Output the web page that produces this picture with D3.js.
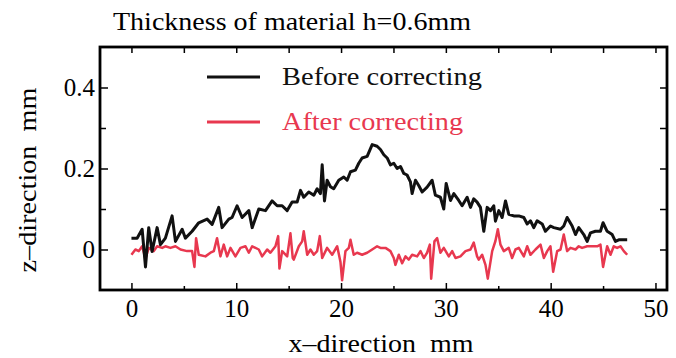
<!DOCTYPE html>
<html><head><meta charset="utf-8">
<script src="https://cdn.jsdelivr.net/npm/d3@7"></script>
<style>
html,body{margin:0;padding:0;background:#fff;}
svg text{font-family:"Liberation Serif","Times New Roman",serif !important;}
</style></head>
<body>
<svg id="chart" width="676" height="358"></svg>
<script>
const title = "Thickness of material h=0.6mm";
const xLabel = "x\u2013direction  mm";
const yLabel = "z\u2013direction  mm";
const seriesNames = ["Before correcting", "After correcting"];
const seriesColors = ["#111111", "#e8384f"];
const xTicks = [0, 10, 20, 30, 40, 50];
const xMinorTicks = [5, 15, 25, 35, 45];
const yTicks = [0, 0.2, 0.4];
const yMinorTicks = [0.1, 0.3];

const beforeX = [0,0.54,1.02,1.34,1.65,1.97,2.45,2.77,3.24,3.88,4.2,4.84,5.15,5.79,6.42,7.22,7.7,8.33,8.65,9.29,9.6,10.08,10.56,11.2,11.52,12.15,12.79,13.42,13.9,14.38,14.86,15.33,15.81,16.13,16.44,16.92,17.4,17.72,18.03,18.2,18.42,18.67,18.99,19.3,19.78,20.26,20.58,20.9,21.37,21.69,22.01,22.49,22.97,23.44,23.76,24.08,24.4,24.71,25.03,25.35,25.67,25.98,26.3,26.62,26.78,27.1,27.41,27.74,28.21,28.69,29.0,29.48,29.8,30.03,30.44,30.76,31.23,31.55,32.03,32.35,32.66,32.98,33.3,33.62,33.94,34.26,34.57,34.73,35.05,35.37,35.69,36.0,36.48,36.96,37.44,37.76,38.07,38.39,38.71,39.19,39.5,39.98,40.3,40.94,41.25,41.57,42.05,42.37,42.68,43.16,43.48,43.8,44.27,44.75,45.0,45.39,45.87,46.18,46.5,47.3];
const beforeZ = [0.028,0.028,0.05,-0.043,0.054,-0.005,0.054,0.012,0.028,0.083,0.02,0.05,0.028,0.045,0.066,0.075,0.062,0.104,0.054,0.075,0.079,0.108,0.079,0.096,0.054,0.1,0.096,0.12,0.108,0.108,0.096,0.117,0.117,0.146,0.129,0.142,0.134,0.15,0.138,0.209,0.12,0.171,0.155,0.15,0.171,0.179,0.171,0.192,0.196,0.213,0.226,0.23,0.259,0.255,0.247,0.234,0.226,0.209,0.213,0.2,0.205,0.188,0.184,0.167,0.138,0.171,0.158,0.142,0.154,0.171,0.134,0.129,0.1,0.163,0.121,0.138,0.121,0.108,0.129,0.104,0.125,0.117,0.104,0.045,0.104,0.096,0.108,0.07,0.096,0.079,0.12,0.087,0.083,0.083,0.079,0.063,0.071,0.054,0.071,0.063,0.045,0.058,0.054,0.05,0.058,0.079,0.058,0.037,0.054,0.037,0.02,0.041,0.045,0.045,0.066,0.045,0.037,0.02,0.024,0.024];

const afterX = [0,0.38,0.7,1.02,1.34,1.65,2.13,2.45,2.93,3.24,3.72,4.2,4.68,5.31,5.79,6.01,6.17,6.42,7.06,7.54,7.86,8.17,8.49,8.81,9.13,9.45,9.92,10.4,10.88,11.2,11.52,12.15,12.47,12.95,13.26,13.74,14.0,14.12,14.38,14.86,15.17,15.39,15.49,15.97,16.29,16.44,16.77,17.08,17.4,17.72,17.97,18.2,18.67,19.15,19.63,19.94,20.1,20.42,20.74,20.9,21.21,21.53,22.01,22.49,22.97,23.44,23.76,24.24,24.71,25.03,25.19,25.51,25.83,26.15,26.46,26.78,27.26,27.58,27.9,28.21,28.47,28.6,28.91,29.17,29.48,29.8,30.28,30.6,30.92,31.39,31.87,32.35,32.66,32.98,33.14,33.46,33.78,34.0,34.42,34.73,34.96,35.21,35.53,36.0,36.32,36.64,36.96,37.44,37.76,38.07,38.55,39.03,39.35,39.67,39.98,40.24,40.62,40.94,41.25,41.57,41.89,42.37,42.68,43.0,43.48,43.96,44.44,44.75,45.0,45.39,45.71,46.02,46.34,46.66,46.98,47.3];
const afterZ = [-0.013,0.0,-0.004,0.008,-0.022,0.004,-0.004,0.008,0.004,0.008,0.004,0.008,0.0,-0.004,-0.004,-0.043,0.028,-0.013,-0.017,-0.008,-0.004,0.028,-0.017,0.012,-0.017,0.004,-0.017,0.004,0.008,-0.008,0.008,0.0,-0.017,0.0,-0.008,0.008,0.033,-0.047,-0.004,-0.017,0.04,-0.021,-0.025,0.008,0.02,0.045,-0.013,0.0,-0.013,-0.004,0.033,-0.021,0.004,-0.013,0.008,-0.03,-0.076,-0.004,0.004,0.024,-0.013,-0.008,-0.013,-0.008,0.0,0.008,0.004,0.004,-0.004,-0.021,-0.038,-0.013,-0.034,-0.017,-0.025,-0.013,-0.017,-0.004,-0.021,-0.008,0.012,-0.072,0.02,0.028,-0.008,0.004,-0.017,-0.004,-0.021,-0.017,-0.004,0.0,0.017,-0.017,-0.025,-0.013,-0.038,-0.072,-0.004,0.021,0.05,0.012,-0.004,0.004,-0.021,0.0,0.004,-0.017,0.008,-0.013,0.0,0.012,-0.021,-0.004,0.008,-0.055,-0.004,0.0,0.037,-0.004,0.004,0.0,0.008,0.004,0.008,0.008,0.008,0.012,-0.043,0.008,-0.013,0.008,0.004,0.008,-0.004,-0.013];

const FONT = "'Liberation Serif','Times New Roman',serif";
const svg = d3.select("#chart");
const L = 100, R = 667, T = 47, B = 290;
const x = d3.scaleLinear().domain([-3, 51.1]).range([L, R]);
const y = d3.scaleLinear().domain([-0.1, 0.5]).range([B, T]);

// title
svg.append("text").attr("x", 113).attr("y", 30).style("font-family", FONT).style("font-size", "26px")
  .attr("textLength", 358).attr("lengthAdjust", "spacingAndGlyphs").text(title);

// axes
function styleAxis(g){
  g.attr("font-family", null);
  g.select(".domain").remove();
  g.selectAll("line").attr("stroke","#000").attr("stroke-width",1.5);
  g.selectAll("text").style("font-family", FONT).style("font-size","25px").attr("fill","#000");
}

svg.append("g").attr("transform",`translate(0,${B})`)
  .call(d3.axisBottom(x).tickValues(xTicks).tickSize(-7).tickPadding(9).tickFormat(d3.format("d")))
  .call(styleAxis);
svg.append("g").attr("transform",`translate(0,${B})`)
  .call(d3.axisBottom(x).tickValues(xMinorTicks).tickSize(-4).tickFormat(""))
  .call(styleAxis);
svg.append("g").attr("transform",`translate(0,${T})`)
  .call(d3.axisTop(x).tickValues(xTicks.concat(xMinorTicks)).tickSize(-6).tickFormat(""))
  .call(styleAxis);
svg.append("g").attr("transform",`translate(${L},0)`)
  .call(d3.axisLeft(y).tickValues(yTicks).tickSize(-8).tickPadding(5).tickFormat(d => d === 0 ? "0" : d3.format(".1f")(d)))
  .call(styleAxis);
svg.append("g").attr("transform",`translate(${L},0)`)
  .call(d3.axisLeft(y).tickValues(yMinorTicks).tickSize(-6).tickFormat(""))
  .call(styleAxis);
svg.append("g").attr("transform",`translate(${R},0)`)
  .call(d3.axisRight(y).tickValues(yTicks.concat(yMinorTicks)).tickSize(-7).tickFormat(""))
  .call(styleAxis);

// frame
svg.append("rect").attr("x",L).attr("y",T).attr("width",R-L).attr("height",B-T)
  .attr("fill","none").attr("stroke","#000").attr("stroke-width",2.8);

// axis titles
svg.append("text").attr("x", 381).attr("y", 352).attr("text-anchor","middle")
  .style("font-family", FONT).style("font-size", "25px").style("white-space","pre")
  .attr("textLength", 185).attr("lengthAdjust","spacingAndGlyphs").text(xLabel);
svg.append("text").attr("transform","translate(36,180) rotate(-90)").attr("text-anchor","middle")
  .style("font-family", FONT).style("font-size", "25px").style("white-space","pre")
  .attr("textLength", 185).attr("lengthAdjust","spacingAndGlyphs").text(yLabel);

// lines
const line = d3.line().x(d => x(d[0])).y(d => y(d[1]));
const beforeData = beforeX.map((v,i) => [v, beforeZ[i]]);
const afterData = afterX.map((v,i) => [v, afterZ[i]]);
svg.append("path").datum(afterData).attr("d", line).attr("fill","none")
  .attr("stroke", seriesColors[1]).attr("stroke-width", 2.5).attr("stroke-linejoin","round");
svg.append("path").datum(beforeData).attr("d", line).attr("fill","none")
  .attr("stroke", seriesColors[0]).attr("stroke-width", 3).attr("stroke-linejoin","round");

// legend
const leg = svg.append("g");
const legLen = [200, 181];
[0,1].forEach(i => {
  const ly = i === 0 ? 77 : 122;
  leg.append("line").attr("x1",207).attr("x2",260).attr("y1",ly).attr("y2",ly)
    .attr("stroke", seriesColors[i]).attr("stroke-width", 3);
  leg.append("text").attr("x", 282).attr("y", ly + 8)
    .style("font-family", FONT).style("font-size", "26px")
    .attr("textLength", legLen[i]).attr("lengthAdjust","spacingAndGlyphs")
    .attr("fill", seriesColors[i]).text(seriesNames[i]);
});
</script>
</body></html>
